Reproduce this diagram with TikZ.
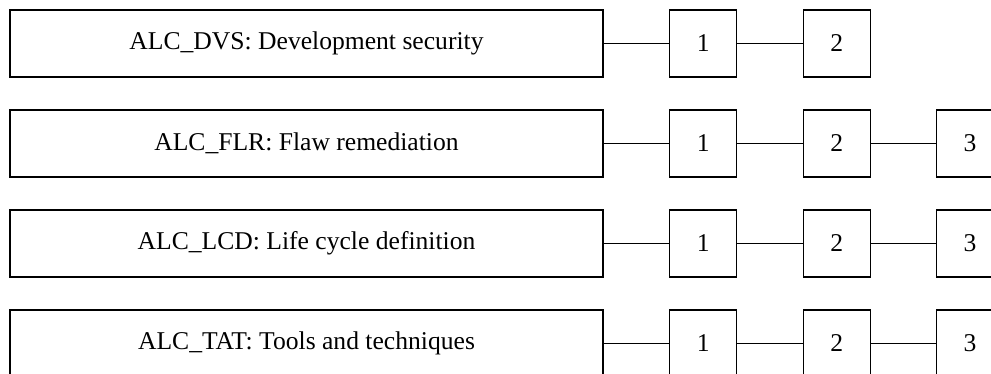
\documentclass[tikz,border=0pt]{standalone}
\usepackage{fontspec}
\setmainfont{Liberation Serif}
\usetikzlibrary{positioning}
\tikzset{font=\fontsize{25.6}{30}\selectfont}

\begin{document}
\begin{tikzpicture}[x=1pt, y=-1pt, line width=1.3pt]
	\useasboundingbox (0, 0) rectangle (991, 374);
	\clip (0, 0) rectangle (991, 374);
	\begin{scope}
		\tikzstyle{every node}=[align=center, inner sep=0pt, draw]
		\tikzstyle{family}=[minimum width=593pt, minimum height=67pt]
		\tikzstyle{level}=[minimum width=67pt, minimum height=67pt]

		\node [family] (dvs) at (306.5, 43.5) {ALC\_DVS: Development security};
		\node [level] (dvsa) at (703.3, 43.5) {1};
		\node [level] (dvsb) at (836.7, 43.5) {2};

		\node [family] (flr) at (306.5, 143.5) {ALC\_FLR: Flaw remediation};
		\node [level] (flra) at (703.3, 143.5) {1};
		\node [level] (flrb) at (836.7, 143.5) {2};
		\node [level] (flrc) at (970, 143.5) {3};

		\node [family] (lcd) at (306.5, 243.5) {ALC\_LCD: Life cycle definition};
		\node [level] (lcda) at (703.3, 243.5) {1};
		\node [level] (lcdb) at (836.7, 243.5) {2};
		\node [level] (lcdc) at (970, 243.5) {3};

		\node [family] (tat) at (306.5, 343.5) {ALC\_TAT: Tools and techniques};
		\node [level] (tata) at (703.3, 343.5) {1};
		\node [level] (tatb) at (836.7, 343.5) {2};
		\node [level] (tatc) at (970, 343.5) {3};

		\draw (dvs) to (dvsa);
		\draw (dvsa) to (dvsb);

		\draw (flr) to (flra);
		\draw (flra) to (flrb);
		\draw (flrb) to (flrc);

		\draw (lcd) to (lcda);
		\draw (lcda) to (lcdb);
		\draw (lcdb) to (lcdc);

		\draw (tat) to (tata);
		\draw (tata) to (tatb);
		\draw (tatb) to (tatc);
	\end{scope}
\end{tikzpicture}
\end{document}
